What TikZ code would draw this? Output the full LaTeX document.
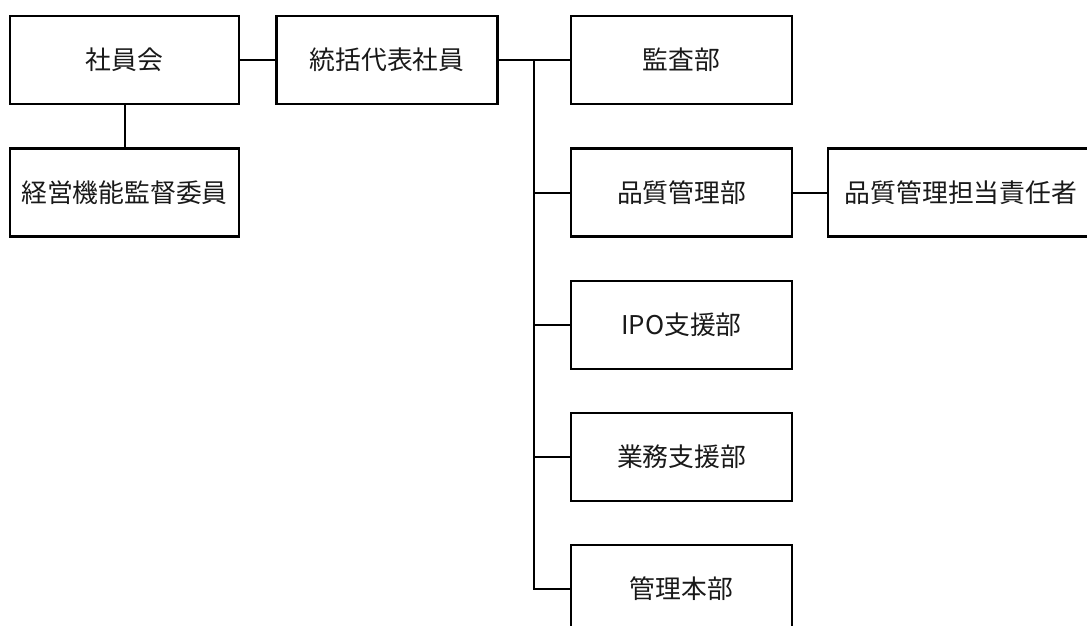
\documentclass[tikz,border=0pt]{standalone}
\usepackage{fontspec}
\setmainfont{Noto Sans CJK JP}
\begin{document}
\begin{tikzpicture}[x=1pt,y=-1pt,
  box/.style={draw=black,line width=2.6pt,minimum width=221pt,minimum height=88pt,inner sep=0pt,font=\fontsize{25.8pt}{30pt}\selectfont,text=black!90},
  link/.style={draw=black,line width=2pt}]
\useasboundingbox (0,0) rectangle (1087,626);
\clip (0,0) rectangle (1087,626);
\node[box,minimum width=229pt] (shain) at (124.5,60) {社員会};
\node[box,minimum width=229pt] (keiei) at (124.5,192.5) {経営機能監督委員};
\node[box] (tokatsu) at (387,60) {統括代表社員};
\node[box] (kansa) at (681.5,60) {監査部};
\node[box] (hinshitsu) at (681.5,192.5) {品質管理部};
\node[box,minimum width=266pt] (tanto) at (961,192.5) {品質管理担当責任者};
\node[box] (ipo) at (681.5,325) {IPO支援部};
\node[box] (gyomu) at (681.5,457) {業務支援部};
\node[box] (kanri) at (681.5,589) {管理本部};
\coordinate (top) at (534,60);
\coordinate (bot) at (534,589);
\draw[link] (shain) -- (tokatsu);
\draw[link] (shain) -- (keiei);
\draw[link] (tokatsu) -- (kansa);
\draw[link] (hinshitsu) -- (tanto);
\draw[link] (top) -- (bot) -- (kanri.west);
\draw[link] (hinshitsu.west -| top) -- (hinshitsu.west);
\draw[link] (ipo.west -| top) -- (ipo.west);
\draw[link] (gyomu.west -| top) -- (gyomu.west);
\end{tikzpicture}
\end{document}
